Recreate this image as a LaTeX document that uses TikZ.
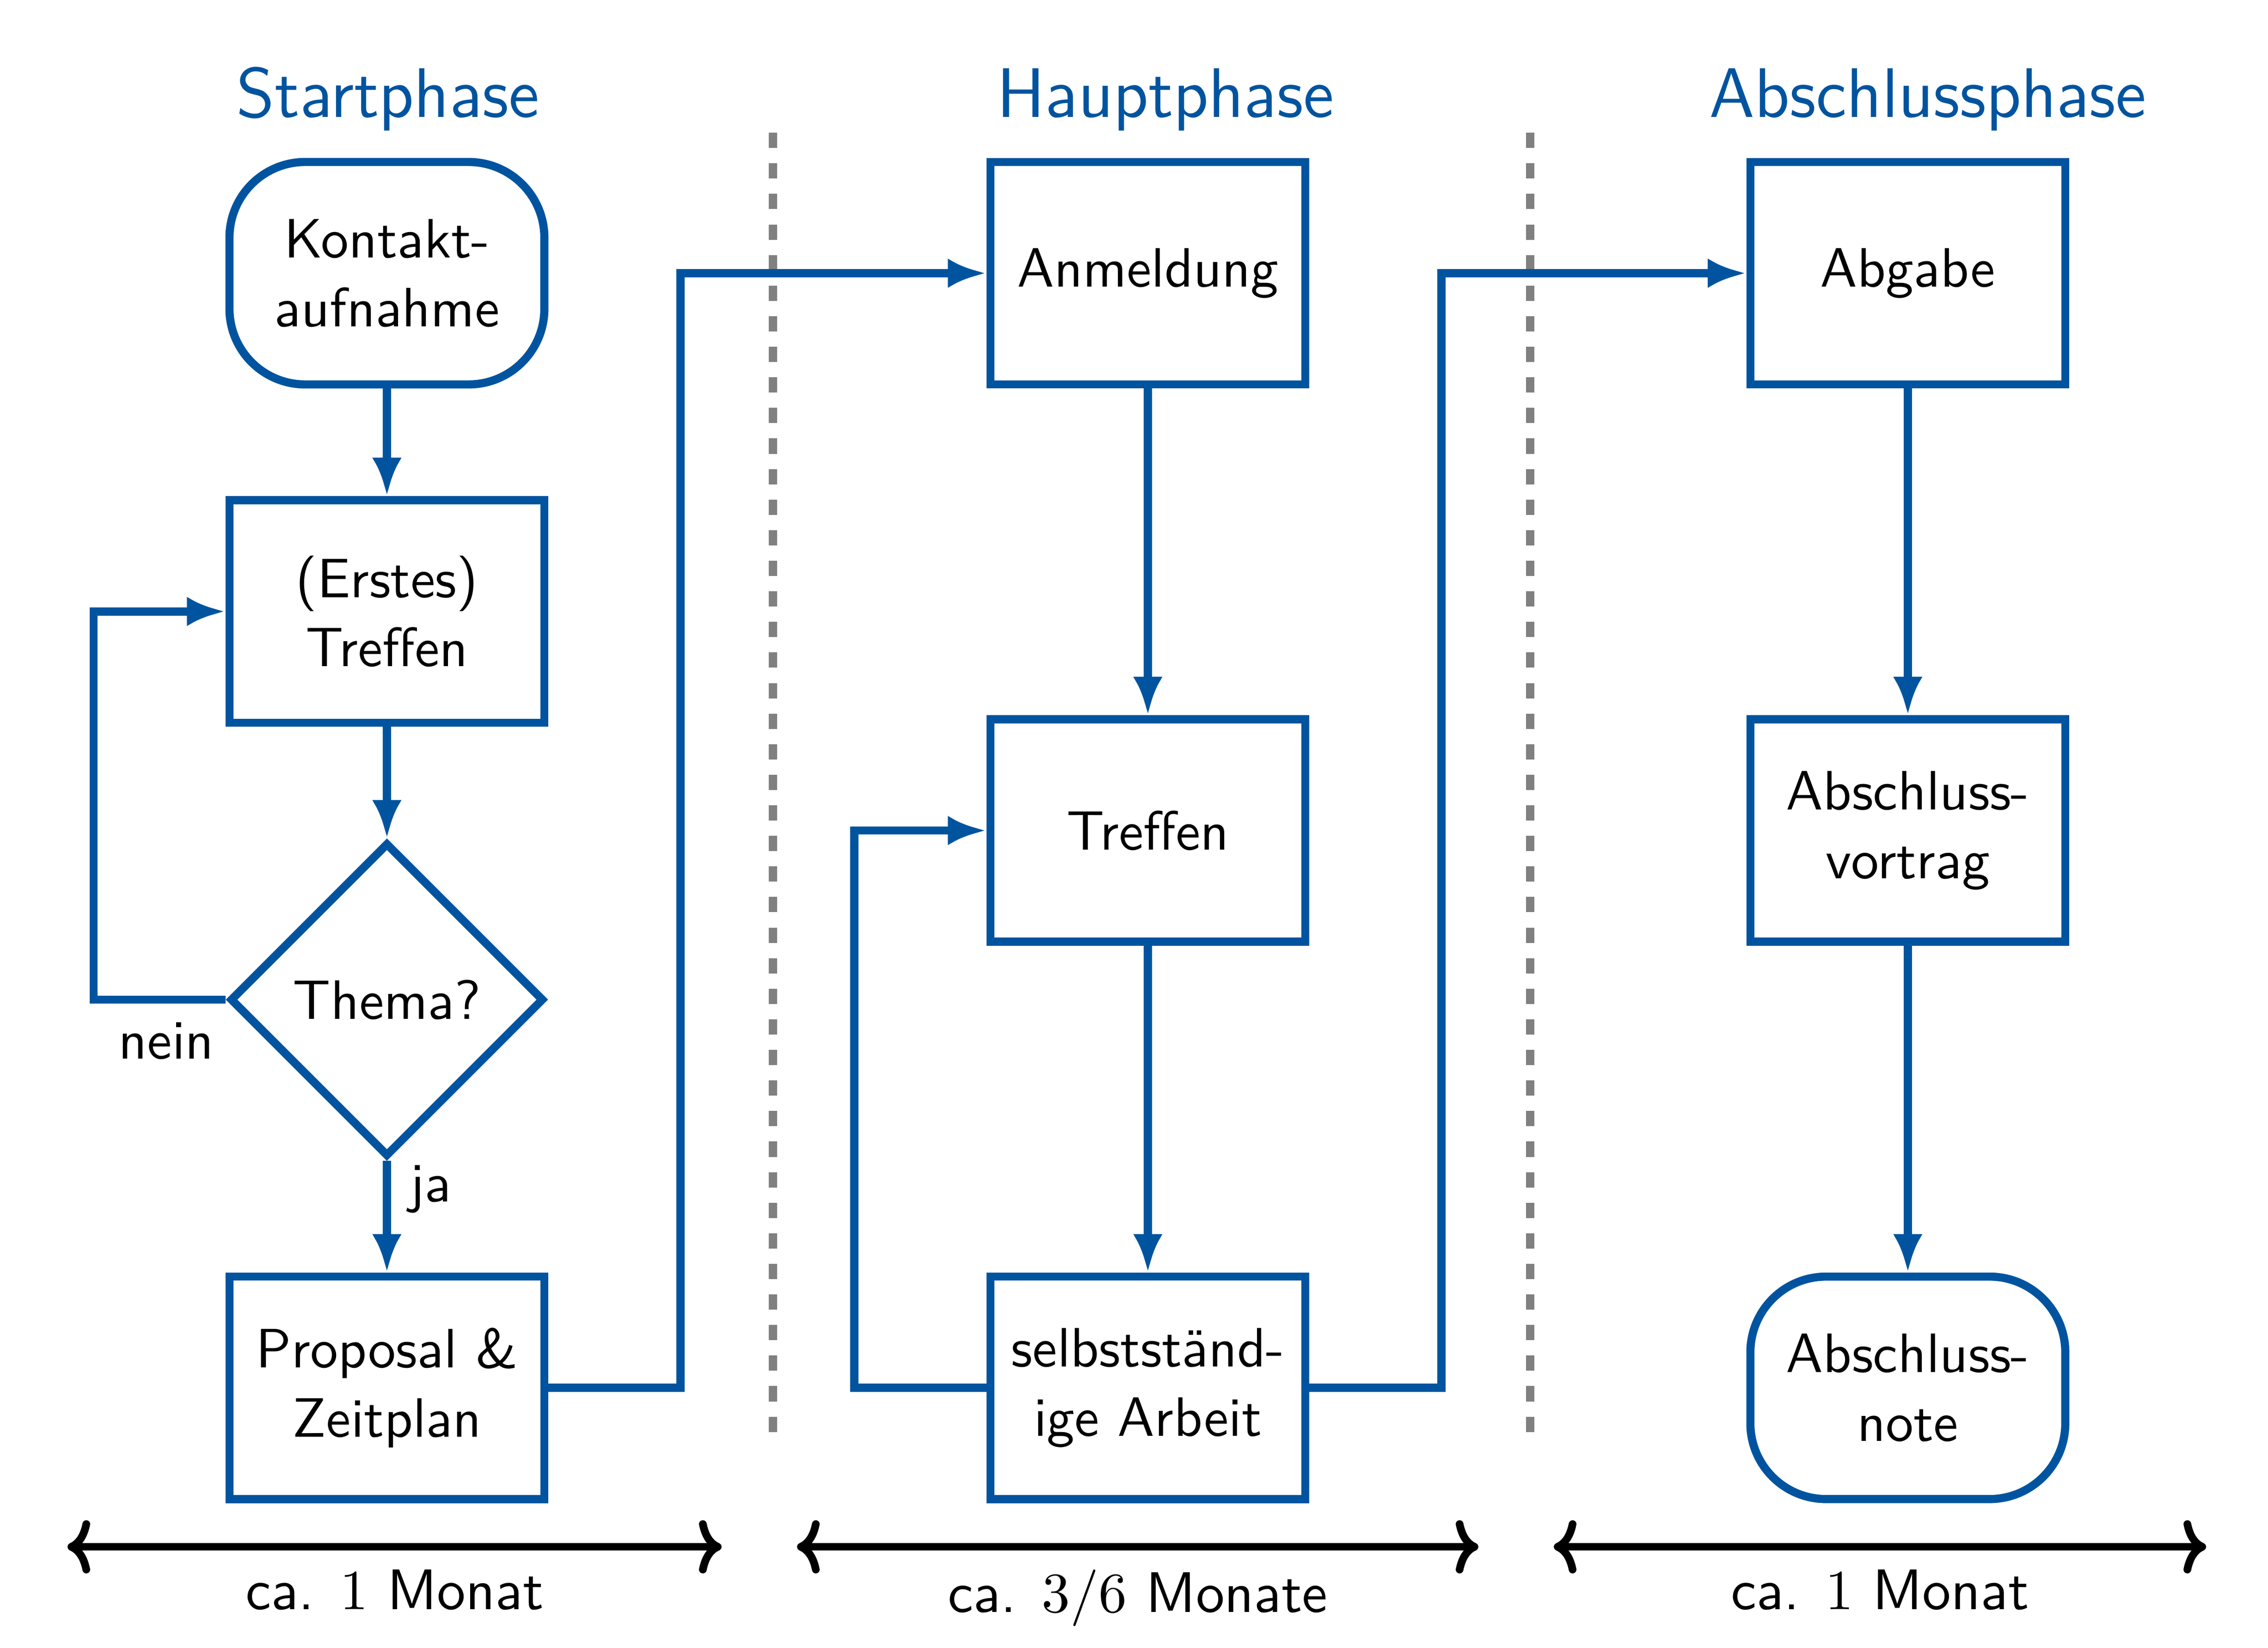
\documentclass[tikz,border=0pt]{standalone}
\usetikzlibrary{shapes, arrows.meta}
\definecolor{rwthblue}{RGB}{0,84,159}
\definecolor{sepgray}{RGB}{128,128,128}
\tikzstyle{startstop} = [rectangle, rounded corners=0.47cm, minimum width=1.955cm, minimum height=1.381cm, align=center, draw=rwthblue, line width=1.44pt]
\tikzstyle{process} = [rectangle, minimum width=1.955cm, minimum height=1.381cm, align=center, draw=rwthblue, line width=1.44pt]
\tikzstyle{decision} = [diamond, aspect=1, minimum width=1.95cm, minimum height=1.95cm, inner sep=0pt, align=center, draw=rwthblue, line width=1.44pt]
\tikzstyle{phase} = [text=rwthblue, anchor=base, font=\sffamily\fontsize{12.4}{14}\selectfont]
\tikzstyle{edge} = [line width=1.44pt, draw=rwthblue, ->, >={Latex[length=6.8pt, width=5.2pt]}]
\tikzstyle{duration} = [line width=1.36pt, <->, >={Computer Modern Rightarrow[length=4pt, width=9.4pt]}]
\tikzstyle{separator} = [draw=sepgray, line width=1.44pt, dash pattern=on 2.7pt off 2.7pt]

\begin{document}
\begin{tikzpicture}[node distance=2.41cm, font=\sffamily\fontsize{9.8}{12.2}\selectfont]

\useasboundingbox (0,0) rectangle (14.080,-10.229);

% Phasen
\node (startphase) [phase] at (2.408,-0.726) {Startphase};
\node (hauptphase) [phase] at (7.235,-0.726) {Hauptphase};
\node (abschlussphase) [phase] at (11.968,-0.726) {Abschlussphase};

\draw [separator] (4.799,-0.824) -- (4.799,-8.923);
\draw [separator] (9.500,-0.824) -- (9.500,-8.923);

% Startphase
\node (kontakt) [startstop] at (2.402,-1.696) {Kontakt-\\aufnahme};
\node (erstes) [process, below of=kontakt, node distance=2.1cm] {(Erstes)\\Treffen};
\node (thema) [decision, below of=erstes] {Thema?};
\node (proposal) [process, below of=thema] {Proposal \&\\Zeitplan};

% Hauptphase
\node (anmeldung) [process] at (7.126,-1.696) {Anmeldung};
\node (treffen) [process, below of=anmeldung, node distance=3.46cm] {Treffen};
\node (arbeit) [process, below of=treffen, node distance=3.46cm] {selbstständ-\\ige Arbeit};

% Abschlussphase
\node (abgabe) [process] at (11.844,-1.696) {Abgabe};
\node (vortrag) [process, below of=abgabe, node distance=3.46cm] {Abschluss-\\vortrag};
\node (note) [startstop, below of=vortrag, node distance=3.46cm] {Abschluss-\\note};

\draw [edge] (kontakt) -- (erstes);
\draw [edge] (erstes) -- (thema);
\draw [edge] (thema) -- node[anchor=west, yshift=0.17cm]{ja} (proposal);
\draw [edge] (thema.west) -- node[anchor=north, pos=0.45]{nein} ++(-0.82,0) |- (erstes.west);
\draw [edge] (proposal.east) -- ++(0.82,0) |- (anmeldung.west);
\draw [edge] (anmeldung) -- (treffen);
\draw [edge] (treffen) -- (arbeit);
\draw [edge] (arbeit.west) -- ++(-0.82,0) |- (treffen.west);
\draw [edge] (arbeit.east) -- ++(0.82,0) |- (abgabe.west);
\draw [edge] (abgabe) -- (vortrag);
\draw [edge] (vortrag) -- (note);

% Dauer
\draw [duration] (0.419,-9.603) -- node[below, font=\sffamily\fontsize{10.1}{12}\selectfont]{ca. $1$ Monat} (4.480,-9.603);
\draw [duration] (4.948,-9.603) -- node[below, font=\sffamily\fontsize{10.1}{12}\selectfont]{ca. $3/6$ Monate} (9.178,-9.603);
\draw [duration] (9.646,-9.603) -- node[below, font=\sffamily\fontsize{10.1}{12}\selectfont]{ca. $1$ Monat} (13.696,-9.603);

\end{tikzpicture}
\end{document}
